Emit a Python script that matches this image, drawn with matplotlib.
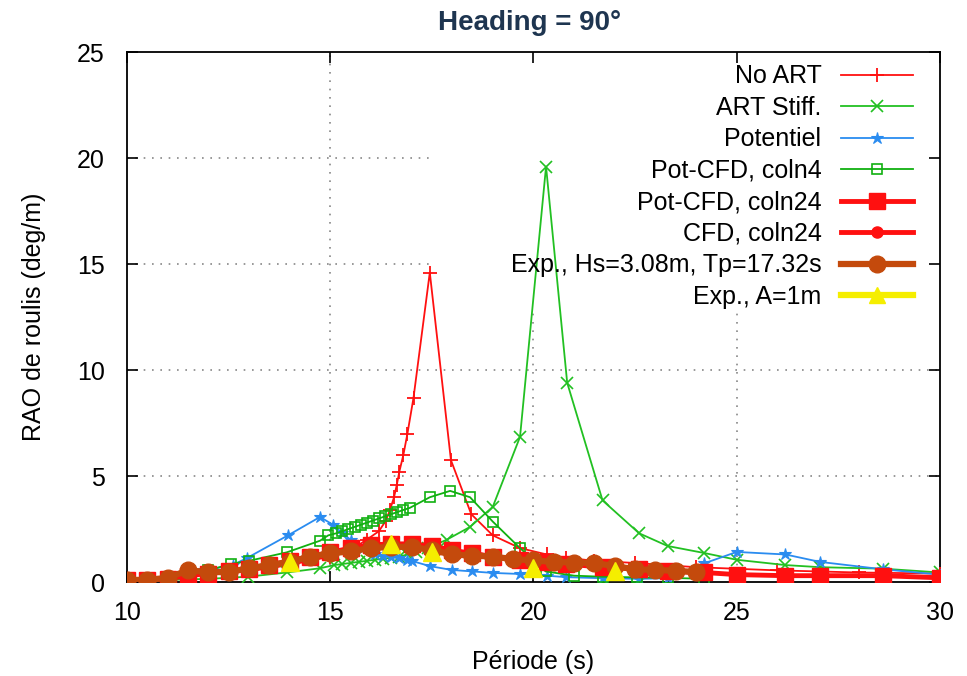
import matplotlib
matplotlib.use("Agg")
import matplotlib.pyplot as plt
from matplotlib.lines import Line2D

plt.rcParams['font.family'] = ['Liberation Sans', 'DejaVu Sans']

title = "Heading = 90°"
xlabel = "Période (s)"
ylabel = "RAO de roulis (deg/m)"
xticks = [10, 15, 20, 25, 30]
yticks = [0, 5, 10, 15, 20, 25]

noart_x = [10, 11, 12, 13, 14, 15, 15.5, 15.9, 16.2, 16.37, 16.47, 16.57, 16.64, 16.7, 16.8, 16.9, 17.05, 17.45,
           17.97, 18.47, 19.0, 19.67, 20.33, 20.8, 21.5, 22.5, 24, 26, 28, 30]
noart_y = [0.1, 0.2, 0.35, 0.5, 0.8, 1.2, 1.5, 2.0, 2.4, 2.9, 3.4, 4.0, 4.6, 5.2, 6.0, 7.0, 8.7, 14.6,
           5.75, 3.2, 2.2, 1.6, 1.3, 1.15, 1.0, 0.9, 0.7, 0.55, 0.45, 0.4]

stiff_x = [10, 11, 12, 12.97, 13.93, 14.75, 15.1, 15.3, 15.5, 15.7, 15.9, 16.1, 16.3, 16.5, 16.7, 16.9, 17.1,
           17.4, 17.87, 18.44, 19.0, 19.67, 20.31, 20.83, 21.7, 22.6, 23.3, 24.2, 25.0, 26.2, 27.05, 28.6, 30]
stiff_y = [0.05, 0.1, 0.15, 0.25, 0.45, 0.65, 0.8, 0.85, 0.9, 0.95, 1.0, 1.05, 1.1, 1.15, 1.2, 1.3, 1.4,
           1.6, 2.0, 2.6, 3.55, 6.85, 19.6, 9.4, 3.85, 2.3, 1.7, 1.37, 1.05, 0.8, 0.7, 0.63, 0.45]

pot_x = [10, 10.5, 11, 11.5, 11.9, 12.6, 12.95, 13.96, 14.75, 15.07, 15.3, 15.5, 15.8, 16.1, 16.3, 16.5, 16.7,
         16.9, 17.0, 17.45, 17.99, 18.5, 19.0, 19.67, 20.33, 20.8, 21.7, 22.6, 23.3, 24.2, 25.0, 26.2, 27.05,
         28.6, 30]
pot_y = [0.1, 0.15, 0.25, 0.35, 0.55, 0.8, 1.13, 2.2, 3.07, 2.7, 2.3, 2.0, 1.6, 1.3, 1.25, 1.2, 1.15,
         1.05, 1.0, 0.75, 0.57, 0.5, 0.43, 0.38, 0.3, 0.23, 0.18, 0.15, 0.18, 0.88, 1.42, 1.3, 0.95,
         0.6, 0.35]

pc4_x = [10, 10.5, 11, 11.5, 12, 12.55, 13.0, 13.93, 14.75, 14.95, 15.15, 15.3, 15.45, 15.6, 15.75, 15.9, 16.05,
         16.2, 16.35, 16.5, 16.65, 16.8, 16.96, 17.45, 17.95, 18.44, 19.0, 19.67, 20.3, 21.0, 21.7, 22.55,
         23.3, 24.2]
pc4_y = [0.1, 0.15, 0.2, 0.35, 0.55, 0.85, 1.0, 1.4, 1.95, 2.2, 2.3, 2.4, 2.5, 2.6, 2.7, 2.8, 2.9,
         3.0, 3.1, 3.2, 3.3, 3.4, 3.5, 4.0, 4.3, 4.0, 2.85, 1.6, 0.5, 0.3, 0.25, 0.22,
         0.2, 0.15]

pc24_x = [10, 10.5, 11, 11.5, 12, 12.5, 13, 13.5, 14, 14.5, 15, 15.5, 16, 16.5, 17, 17.5, 18, 18.5, 19,
          19.67, 20.33, 20.8, 21.7, 22.6, 23.3, 24.2, 25.0, 26.2, 27.05, 28.6, 30]
pc24_y = [0.08, 0.1, 0.15, 0.3, 0.4, 0.5, 0.6, 0.8, 1.0, 1.2, 1.4, 1.6, 1.75, 1.8, 1.8, 1.7, 1.5, 1.35, 1.2,
          1.05, 0.95, 0.85, 0.7, 0.6, 0.5, 0.45, 0.35, 0.3, 0.3, 0.3, 0.2]

cfd_x = [14, 15, 16, 17, 18, 19, 20]
cfd_y = [1.0, 1.35, 1.6, 1.7, 1.45, 1.2, 1.0]

exp_x = [10, 10.5, 11, 11.5, 12, 12.5, 13, 13.5, 14, 14.5, 15, 15.5, 16, 16.5, 17, 17.5, 18, 18.5, 19, 19.5,
         20, 20.5, 21, 21.5, 22, 22.5, 23, 23.5, 24]
exp_y = [0.1, 0.1, 0.2, 0.55, 0.47, 0.47, 0.65, 0.8, 0.95, 1.2, 1.35, 1.45, 1.6, 1.66, 1.66, 1.5, 1.3, 1.25, 1.2, 1.08,
         1.02, 0.95, 0.92, 0.9, 0.75, 0.6, 0.57, 0.53, 0.47]

expA_x = [14.0, 16.5, 17.5, 20.0, 22.0]
expA_y = [0.95, 1.8, 1.42, 0.65, 0.52]

c_red = '#ff1010'
c_green = '#22c022'
c_blue = '#2a8cf0'
c_green2 = '#10b010'
c_brown = '#c44a0c'
c_yellow = '#f5ee00'

fig = plt.figure(figsize=(9.67, 6.76), dpi=100)
ax = fig.add_axes([0.1313, 0.139, 0.8407, 0.784])

ax.plot(noart_x, noart_y, color=c_red, lw=1.3, marker='+', ms=10, mew=1.3, label='No ART', zorder=3)
ax.plot(stiff_x, stiff_y, color=c_green, lw=1.3, marker='x', ms=8, mew=1.2, label='ART Stiff.', zorder=3)
ax.plot(pot_x, pot_y, color=c_blue, lw=1.3, marker='*', ms=9, mew=0.8, label='Potentiel', zorder=3)
ax.plot(pc4_x, pc4_y, color=c_green2, lw=1.3, marker='s', ms=7, mfc='none', mew=1.2, label='Pot-CFD, coln4', zorder=3)
ax.plot(pc24_x, pc24_y, color=c_red, lw=3.5, marker='s', ms=11, label='Pot-CFD, coln24', zorder=4)
ax.plot(cfd_x, cfd_y, color=c_red, lw=3.5, marker='o', ms=8, label='CFD, coln24', zorder=4)
ax.plot(exp_x, exp_y, color=c_brown, lw=4.5, marker='o', ms=12, label='Exp., Hs=3.08m, Tp=17.32s', zorder=5)
ax.plot(expA_x, expA_y, color=c_yellow, lw=0, marker='^', ms=13, zorder=6)

handles, labels = ax.get_legend_handles_labels()
handles.append(Line2D([], [], color=c_yellow, lw=4.5, marker='^', ms=12))
labels.append('Exp., A=1m')

ax.set_xlim(10, 30)
ax.set_ylim(0, 25)
ax.set_xticks(xticks)
ax.set_yticks(yticks)
ax.tick_params(direction='in', length=8, width=1.2, top=True, right=True, labelsize=18)
ax.tick_params(axis='x', pad=14)
ax.tick_params(axis='y', pad=16)
for s in ax.spines.values():
    s.set_linewidth(1.3)

# dotted grid, kept clear of the key area (as gnuplot does)
gkw = dict(linestyle=(0, (1, 4)), color='#888888', lw=1.2, zorder=1)
key_xfrac = 0.379
key_yfrac = 0.513
ax.axvline(15, **gkw)
ax.axvline(20, ymax=key_yfrac, **gkw)
ax.axvline(25, ymax=key_yfrac, **gkw)
ax.axhline(5, **gkw)
ax.axhline(10, **gkw)
ax.axhline(15, xmax=key_xfrac, **gkw)
ax.axhline(20, xmax=key_xfrac, **gkw)

leg = ax.legend(handles, labels, loc='upper right', markerfirst=False, frameon=False, fontsize=18,
                handlelength=2.85, labelspacing=0.3, borderaxespad=0.2, handletextpad=0.8,
                bbox_to_anchor=(0.985, 1.005))
for t in leg.get_texts():
    t.set_ha('right')
leg._legend_box.align = 'right'
leg.set_zorder(10)

ax.set_xlabel(xlabel, fontsize=18, labelpad=18)
ax.set_ylabel(ylabel, fontsize=18, labelpad=22)
fig.text(0.548, 0.966, title, ha='center', va='center', fontsize=20, fontweight='bold', color='#1e3550')

fig.savefig('out.png', dpi=100)
